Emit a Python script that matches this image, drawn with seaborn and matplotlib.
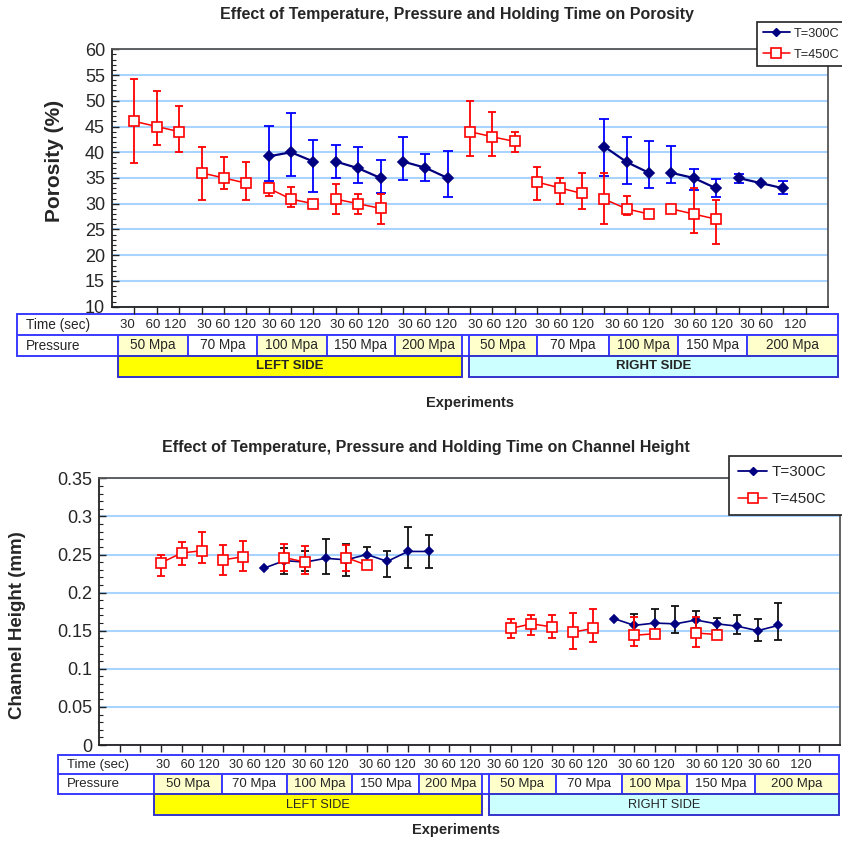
import numpy as np
import pandas as pd
import matplotlib
matplotlib.use("Agg")
import matplotlib.pyplot as plt
from matplotlib.lines import Line2D
from matplotlib.patches import Rectangle
from matplotlib.ticker import MultipleLocator, FuncFormatter
import seaborn as sns

# ---------------- data : porosity ----------------
por_450_slot = [1, 2, 3, 4, 5, 6, 7, 8, 9, 10, 11, 12, 16, 17, 18, 19, 20, 21, 22, 23, 24, 25, 26, 27]
por_450_val = [46, 45, 44, 36, 35, 34, 33, 30.9, 30, 30.9, 30, 29.1, 44, 43, 42.1, 34.2, 33.1, 32, 30.9, 29, 28, 29, 28, 27]
por_450_seg = [0, 0, 0, 1, 1, 1, 2, 2, 2, 3, 3, 3, 4, 4, 4, 5, 5, 5, 6, 6, 6, 7, 7, 7]
por_450_err_hi = [8.3, 6.9, 5.0, 5.0, 4.0, 4.2, 1.1, 2.3, 0.0, 3.0, 1.8, 2.8, 6.0, 4.9, 1.9, 3.0, 1.9, 3.9, 5.0, 2.5, 0.0, 0.5, 5.0, 3.8]
por_450_err_lo = [8.0, 3.6, 4.0, 5.2, 2.1, 3.2, 1.4, 1.5, 0.0, 2.9, 2.0, 3.1, 4.8, 3.8, 2.1, 3.4, 3.1, 3.0, 4.9, 1.2, 0.0, 0.5, 3.6, 4.8]

por_300_slot = [7, 8, 9, 10, 11, 12, 13, 14, 15, 22, 23, 24, 25, 26, 27, 28, 29, 30]
por_300_val = [39.2, 40, 38.2, 38.2, 36.9, 35, 38.2, 37, 35, 41.1, 38.1, 36, 36, 35, 33, 35, 34, 33]
por_300_seg = [0, 0, 0, 1, 1, 1, 2, 2, 2, 3, 3, 3, 4, 4, 4, 5, 5, 5]
por_300_err_hi = [5.9, 7.6, 4.1, 3.2, 4.1, 3.4, 4.8, 2.7, 5.3, 5.4, 4.8, 6.1, 5.3, 1.8, 1.8, 0.7, 0.0, 1.4]
por_300_err_lo = [4.8, 4.6, 5.9, 3.2, 2.8, 2.9, 3.5, 2.5, 3.7, 5.7, 4.2, 3.0, 1.9, 2.4, 1.7, 1.0, 0.0, 1.2]

# ---------------- data : channel height ----------------
ch_450_slot = [3, 4, 5, 6, 7, 9, 10, 12, 13, 20, 21, 22, 23, 24, 26, 27, 29, 30]
ch_450_val = [0.239, 0.252, 0.255, 0.243, 0.247, 0.246, 0.240, 0.246, 0.236,
              0.153, 0.159, 0.155, 0.148, 0.153, 0.144, 0.146, 0.147, 0.145]
ch_450_seg = [0, 0, 0, 1, 1, 2, 2, 3, 3, 4, 4, 4, 5, 5, 6, 6, 7, 7]
ch_450_err_hi = [0.011, 0.014, 0.024, 0.019, 0.021, 0.018, 0.021, 0.017, 0.006,
                 0.013, 0.012, 0.016, 0.025, 0.025, 0.024, 0.003, 0.021, 0.005]
ch_450_err_lo = [0.017, 0.016, 0.016, 0.020, 0.018, 0.018, 0.016, 0.017, 0.004,
                 0.012, 0.014, 0.015, 0.022, 0.018, 0.014, 0.003, 0.018, 0.005]

ch_300_slot = [8, 9, 10, 11, 12, 13, 14, 15, 16, 25, 26, 27, 28, 29, 30, 31, 32, 33]
ch_300_val = [0.232, 0.242, 0.240, 0.245, 0.243, 0.250, 0.241, 0.254, 0.254,
              0.166, 0.157, 0.160, 0.159, 0.164, 0.159, 0.156, 0.150, 0.157]
ch_300_seg = [0] * 9 + [1] * 9
ch_300_err_hi = [0.0, 0.016, 0.014, 0.025, 0.021, 0.010, 0.013, 0.032, 0.021,
                 0.0, 0.015, 0.018, 0.023, 0.012, 0.008, 0.014, 0.016, 0.029]
ch_300_err_lo = [0.0, 0.018, 0.012, 0.020, 0.021, 0.012, 0.020, 0.022, 0.022,
                 0.0, 0.012, 0.012, 0.012, 0.010, 0.008, 0.010, 0.013, 0.019]

# ---------------- table labels ----------------
times = [30, 60, 120]
pressures = ["50 Mpa", "70 Mpa", "100 Mpa", "150 Mpa", "200 Mpa"]
sides = ["LEFT SIDE", "RIGHT SIDE"]
series_labels = ["T=300C", "T=450C"]

# ---------------- style ----------------
sns.set_style("white")
plt.rcParams['font.family'] = ['Liberation Sans', 'DejaVu Sans']

NAVY = '#000080'
BBLUE = '#0000ff'
RED = '#ff0000'
GRID = '#a8d4ff'
TBL = '#3a3aff'

W = H = 842
fig = plt.figure(figsize=(8.42, 8.42), dpi=100)
ov = fig.add_axes([0, 0, 1, 1], zorder=0)
ov.set_xlim(0, W)
ov.set_ylim(H, 0)
ov.axis('off')


def ax_rect(l, t, r, b):
    return [l / W, 1 - b / H, (r - l) / W, (b - t) / H]


ax1 = fig.add_axes(ax_rect(112, 49.3, 828, 306.7), zorder=2)
ax2 = fig.add_axes(ax_rect(99.3, 478.3, 840, 745), zorder=2)


def style_axes(ax, ylim, major, minor, nslots):
    ax.set_xlim(0, nslots + 1)
    ax.set_ylim(*ylim)
    ax.set_xticks(range(1, nslots + 1))
    ax.set_xticklabels([])
    ax.set_xlabel('')
    ax.set_ylabel('')
    ax.yaxis.set_major_locator(MultipleLocator(major))
    ax.yaxis.set_minor_locator(MultipleLocator(minor))
    ax.yaxis.set_major_formatter(FuncFormatter(lambda v, p: f'{v:g}'))
    ax.yaxis.grid(True, which='major', color=GRID, lw=1.5)
    ax.xaxis.grid(False)
    ax.set_axisbelow(True)
    ax.tick_params(axis='x', which='major', direction='out', length=5, width=1,
                   color='#222222', bottom=True)
    ax.tick_params(axis='y', which='major', direction='in', length=5, width=1,
                   color='#222222', left=True, labelsize=13, pad=5)
    ax.tick_params(axis='y', which='minor', direction='in', length=3, width=0.8,
                   color='#222222', left=True)
    for s in ['left', 'bottom']:
        ax.spines[s].set_color('#222222')
        ax.spines[s].set_linewidth(1.3)
    for s in ['top', 'right']:
        ax.spines[s].set_color('#555555')
        ax.spines[s].set_linewidth(1.3)


def draw_series(ax, slot, val, seg, lo, hi, line_color, lw, marker, ms, mfc, ecolor, capsize, z):
    df = pd.DataFrame({'slot': slot, 'val': val, 'seg': seg})
    lo = np.asarray(lo)
    hi = np.asarray(hi)
    m = (lo + hi) > 0
    ax.errorbar(np.asarray(slot)[m], np.asarray(val)[m], yerr=[lo[m], hi[m]], fmt='none',
                ecolor=ecolor, elinewidth=1.3, capsize=capsize, capthick=1.3, zorder=z)
    sns.lineplot(data=df, x='slot', y='val', units='seg', estimator=None, ax=ax,
                 color=line_color, linewidth=lw, marker=marker, markersize=ms,
                 markerfacecolor=mfc, markeredgecolor=line_color, markeredgewidth=1.2,
                 legend=False, zorder=z + 0.5)


# ---- top chart ----
draw_series(ax1, por_300_slot, por_300_val, por_300_seg, por_300_err_lo, por_300_err_hi,
            NAVY, 1.6, 'D', 5, NAVY, BBLUE, 3.6, 3)
draw_series(ax1, por_450_slot, por_450_val, por_450_seg, por_450_err_lo, por_450_err_hi,
            RED, 1.1, 's', 7.5, 'white', RED, 2.6, 4)
style_axes(ax1, (10, 60), 5, 1, 31)

# ---- bottom chart ----
draw_series(ax2, ch_300_slot, ch_300_val, ch_300_seg, ch_300_err_lo, ch_300_err_hi,
            NAVY, 1.2, 'D', 4.5, NAVY, '#111111', 2.6, 3)
draw_series(ax2, ch_450_slot, ch_450_val, ch_450_seg, ch_450_err_lo, ch_450_err_hi,
            RED, 1.1, 's', 6.5, 'white', RED, 2.6, 4)
style_axes(ax2, (0, 0.35), 0.05, 0.01, 35)


# ---- legends (boxes run past the right edge, as in the reference) ----
def legend(ax, left, top, fs, dms, sms, ls, hl, bp):
    handles = [Line2D([], [], color=NAVY, lw=1.3, marker='D', ms=dms, mfc=NAVY, mec=NAVY),
               Line2D([], [], color=RED, lw=1.1, marker='s', ms=sms, mfc='white', mec=RED, mew=1.2)]
    bw = (W + 8 - left) / W
    leg = ax.legend(handles, series_labels, loc='upper left',
                    bbox_to_anchor=(left / W, 1 - top / H - 0.2, bw, 0.2),
                    bbox_transform=fig.transFigure, mode='expand', fontsize=fs, frameon=True,
                    fancybox=False, edgecolor='#222222', framealpha=1, borderpad=bp,
                    labelspacing=ls, handlelength=hl, handletextpad=0.3, borderaxespad=0)
    leg.get_frame().set_linewidth(1.2)
    return leg


legend(ax1, 757, 22, 9.2, 4.5, 6.5, 0.7, 2.1, 0.45)
legend(ax2, 729.3, 456, 11, 4.5, 7, 0.85, 1.9, 0.6)

# ---- titles & axis labels ----
ov.text(457, 19, 'Effect of Temperature, Pressure and Holding Time on Porosity',
        ha='center', va='baseline', fontsize=11.5, fontweight='bold')
ov.text(426, 452, 'Effect of Temperature, Pressure and Holding Time on Channel Height',
        ha='center', va='baseline', fontsize=11.5, fontweight='bold')
ov.text(55, 161, 'Porosity (%)', rotation=90, ha='center', va='center',
        fontsize=15, fontweight='bold')
ov.text(18, 625, 'Channel Height (mm)', rotation=90, ha='center', va='center',
        fontsize=13.5, fontweight='bold')
ov.text(470, 403, 'Experiments', ha='center', va='center', fontsize=10.5, fontweight='bold')
ov.text(456, 830, 'Experiments', ha='center', va='center', fontsize=10.5, fontweight='bold')

# ---- tables (layout in pixel units) ----
top_tbl = dict(left=17.3, right=838, ys=(314.3, 335, 356, 376.7), lab_x=26,
               edges=([117.7, 188.3, 256.7, 326.5, 394.7, 462], [469, 537, 608.5, 677.8, 746.5, 838]),
               group_x=[120, 197, 262, 330, 398, 468, 535, 605, 674, 740],
               group_sep=[(3, 1), (1, 1), (1, 1), (1, 1), (1, 1), (1, 1), (1, 1), (1, 1), (1, 1), (1, 3)],
               fs=9.8, tfs=9.5, side_bold=True)
bot_tbl = dict(left=58.3, right=839, ys=(755, 774.3, 794.3, 815), lab_x=66.7,
               edges=([154, 222, 287, 352, 419, 482], [489, 556, 622, 687, 755, 839]),
               group_x=[155.5, 229, 292, 359, 424, 487, 551, 618.5, 686, 748],
               group_sep=[(3, 1), (1, 1), (1, 1), (1, 1), (1, 1), (1, 1), (1, 1), (1, 1), (1, 1), (1, 3)],
               fs=9.5, tfs=9.2, side_bold=False)


def draw_table(t):
    y0, y1, y2, y3 = t['ys']
    L, R = t['left'], t['right']
    fs = t['fs']
    ov.add_patch(Rectangle((L, y0), R - L, y2 - y0, fc='white', ec=TBL, lw=1.4, zorder=1))
    ov.plot([L, R], [y1, y1], color=TBL, lw=1.4, zorder=2)
    ov.plot([t['edges'][0][0]] * 2, [y1, y2], color=TBL, lw=1.4, zorder=2)
    ov.text(t['lab_x'], (y0 + y1) / 2, 'Time (sec)', ha='left', va='center', fontsize=fs, zorder=3)
    ov.text(t['lab_x'], (y1 + y2) / 2, 'Pressure', ha='left', va='center', fontsize=fs, zorder=3)
    for gx, (s1, s2) in zip(t['group_x'], t['group_sep']):
        txt = str(times[0]) + ' ' * s1 + str(times[1]) + ' ' * s2 + str(times[2])
        ov.text(gx, (y0 + y1) / 2, txt, ha='left', va='center', fontsize=t['tfs'], zorder=3)
    side_fc = ['#ffff00', '#ccffff']
    for si, edges in enumerate(t['edges']):
        for i, (a, b) in enumerate(zip(edges[:-1], edges[1:])):
            fc = '#ffffcc' if i % 2 == 0 else 'white'
            ov.add_patch(Rectangle((a, y1), b - a, y2 - y1, fc=fc, ec=TBL, lw=1.4, zorder=2))
            ov.text((a + b) / 2, (y1 + y2) / 2, pressures[i], ha='center', va='center',
                    fontsize=fs, zorder=3)
        ov.add_patch(Rectangle((edges[0], y2), edges[-1] - edges[0], y3 - y2, fc=side_fc[si],
                               ec='#3333cc', lw=1.4, zorder=2))
        ov.text((edges[0] + edges[-1]) / 2, (y2 + y3) / 2, sides[si], ha='center', va='center',
                fontsize=fs - 0.3, fontweight='bold' if t['side_bold'] else 'normal', zorder=3)


draw_table(top_tbl)
draw_table(bot_tbl)

fig.savefig('out.png', dpi=100)
